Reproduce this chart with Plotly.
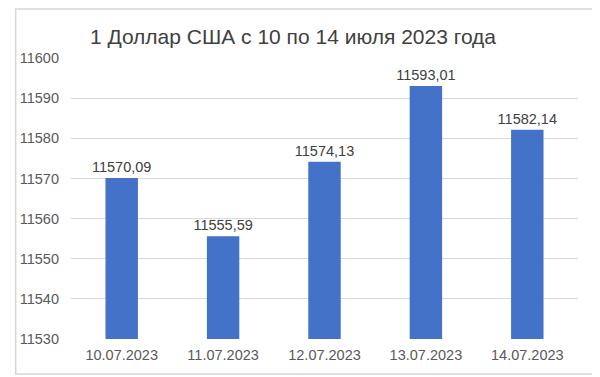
import plotly.graph_objects as go

dates = ["10.07.2023", "11.07.2023", "12.07.2023", "13.07.2023", "14.07.2023"]
values = [11570.09, 11555.59, 11574.13, 11593.01, 11582.14]
title = "1 Доллар США с 10 по 14 июля 2023 года"

labels = [f"{v:.2f}".replace(".", ",") for v in values]

# page has an 8px body margin, so the figure is sized to fit the window
W, H = 592, 369
L, R, T, B = 57, 22, 50, 38
pw, ph = W - L - R, H - T - B

fig = go.Figure(go.Bar(
    x=dates, y=values, text=labels, textposition="outside",
    constraintext="none",
    marker=dict(color="#4472C8", line=dict(width=0)),
    width=0.32, cliponaxis=False,
    textfont=dict(size=14.5, color="#404040", family="Liberation Sans"),
))

fig.update_layout(
    width=W, height=H,
    margin=dict(l=L, r=R, t=T, b=B),
    paper_bgcolor="white", plot_bgcolor="white",
    font=dict(family="Liberation Sans", color="#595959", size=14.5),
    title=dict(text=title, xref="container", x=285 / W,
               yref="container", y=1 - 29 / H, yanchor="middle", xanchor="center",
               font=dict(size=21, color="#404040", family="Liberation Sans")),
    showlegend=False,
    yaxis=dict(range=[11530, 11600], dtick=10, gridcolor="#d9d9d9", gridwidth=1,
               zeroline=False, showline=False, ticks="", ticklabelstandoff=11,
               tickformat="d", tickfont=dict(size=14.5, color="#595959")),
    xaxis=dict(showline=False, ticks="", ticklabelstandoff=5,
               tickfont=dict(size=14.5, color="#595959")),
    shapes=[dict(type="rect", xref="paper", yref="paper",
                 x0=(1 - L) / pw, x1=(589 - L) / pw,
                 y0=(H - B - 366) / ph, y1=(H - B - 1) / ph,
                 line=dict(color="#d6d6d6", width=1.5), fillcolor="rgba(0,0,0,0)")],
)

fig.write_html("out.html")
